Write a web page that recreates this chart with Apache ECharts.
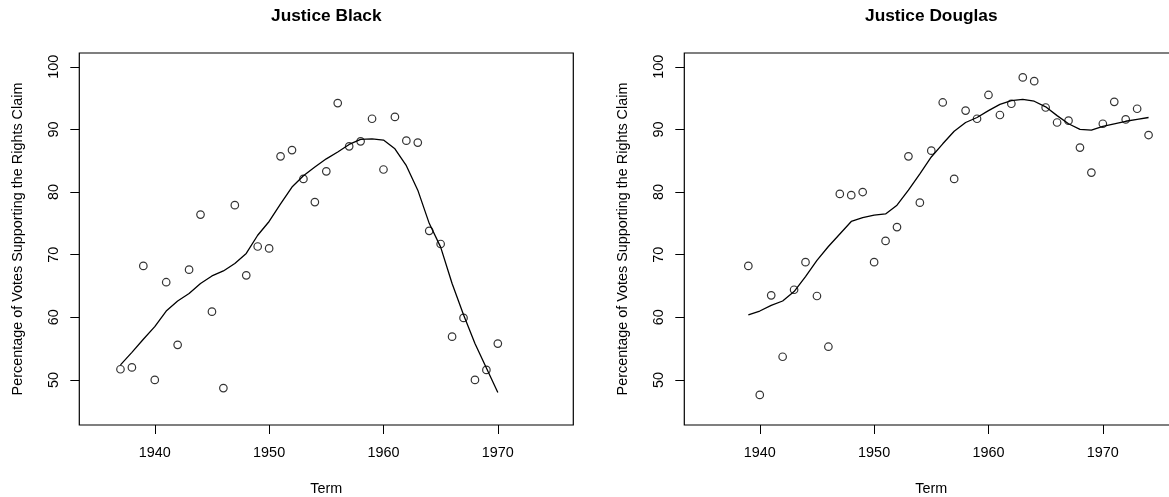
<!DOCTYPE html>
<html>
<head>
<meta charset="utf-8">
<script src="https://cdn.jsdelivr.net/npm/echarts@6/dist/echarts.min.js"></script>
<style>html,body{margin:0;padding:0;background:#fff}#c{width:1169px;height:497px}</style>
</head>
<body>
<div id="c"></div>
<script>
const blackYears = [1937,1938,1939,1940,1941,1942,1943,1944,1945,1946,1947,1948,1949,1950,1951,1952,1953,1954,1955,1956,1957,1958,1959,1960,1961,1962,1963,1964,1965,1966,1967,1968,1969,1970];
const blackVotes = [51.7,52.0,68.2,50.0,65.6,55.6,67.6,76.4,60.9,48.7,77.9,66.7,71.3,71.0,85.7,86.7,82.1,78.4,83.3,94.2,87.3,88.1,91.7,83.6,92.0,88.2,87.9,73.8,71.7,56.9,59.9,50.0,51.6,55.8];
const blackSmooth = [52.4,54.4,56.5,58.5,61.0,62.6,63.8,65.4,66.6,67.4,68.6,70.2,73.1,75.3,78.1,80.8,82.6,84.0,85.3,86.4,87.6,88.4,88.5,88.3,86.9,84.2,80.3,75.0,71.2,65.4,60.4,55.8,51.9,48.0];

const douglasYears = [1939,1940,1941,1942,1943,1944,1945,1946,1947,1948,1949,1950,1951,1952,1953,1954,1955,1956,1957,1958,1959,1960,1961,1962,1963,1964,1965,1966,1967,1968,1969,1970,1971,1972,1973,1974];
const douglasVotes = [68.2,47.6,63.5,53.7,64.4,68.8,63.4,55.3,79.7,79.5,80.0,68.8,72.2,74.4,85.7,78.3,86.6,94.3,82.1,93.0,91.7,95.5,92.3,94.1,98.3,97.7,93.5,91.1,91.4,87.1,83.1,90.9,94.4,91.6,93.3,89.1];
const douglasSmooth = [60.4,61.0,61.9,62.6,64.1,66.5,69.1,71.3,73.3,75.3,75.9,76.3,76.5,77.9,80.3,82.9,85.6,87.7,89.7,91.1,91.9,93.0,94.0,94.6,94.8,94.5,93.6,92.2,90.9,90.0,89.9,90.5,90.9,91.3,91.6,91.9];

const xTicks = [1940,1950,1960,1970];
const yTicks = [50,60,70,80,90,100];
const titles = ['Justice Black','Justice Douglas'];
const xName = 'Term';
const yName = 'Percentage of Votes Supporting the Rights Claim';

const FONT = '"Liberation Sans", Arial, Helvetica, sans-serif';
const zip = (a,b) => a.map((v,i)=>[v,b[i]]);

const grids = [
  {left:79.3, top:53, width:494, height:372},
  {left:684.3, top:53, width:494, height:372}
];

function xAxis(i){
  return {
    type:'value', gridIndex:i, min:1933.4, max:1976.6,
    name:xName, nameLocation:'middle', nameGap:64,
    nameTextStyle:{fontFamily:FONT, fontSize:14.4, color:'#000', verticalAlign:'middle'},
    axisLine:{show:false},
    splitLine:{show:false},
    axisTick:{show:true, length:9, inside:false, customValues:xTicks, lineStyle:{color:'#000', width:1}},
    axisLabel:{customValues:xTicks, formatter:v=>String(v), margin:28, verticalAlign:'middle', fontFamily:FONT, fontSize:14.4, color:'#000'}
  };
}
function yAxis(i){
  return {
    type:'value', gridIndex:i, min:42.8, max:102.2,
    axisLine:{show:false},
    splitLine:{show:false},
    axisTick:{show:true, length:9, inside:false, customValues:yTicks, lineStyle:{color:'#000', width:1}},
    axisLabel:{customValues:yTicks, formatter:v=>String(v), rotate:90, margin:25, align:'center', verticalAlign:'middle', fontFamily:FONT, fontSize:14.4, color:'#000'}
  };
}

const option = {
  backgroundColor:'#fff',
  animation:false,
  title:[
    {text:titles[0], left:326.3, top:7.5, textAlign:'center', padding:0, textStyle:{fontFamily:FONT, fontSize:17.3, fontWeight:'bold', color:'#000'}},
    {text:titles[1], left:931.3, top:7.5, textAlign:'center', padding:0, textStyle:{fontFamily:FONT, fontSize:17.3, fontWeight:'bold', color:'#000'}}
  ],
  grid: grids.map(g=>Object.assign({show:true, outerBoundsMode:'none', containLabel:false, borderColor:'#000', borderWidth:1.2, backgroundColor:'transparent'}, g)),
  xAxis:[xAxis(0), xAxis(1)],
  yAxis:[yAxis(0), yAxis(1)],
  graphic:[
    {type:'text', x:18, y:239, rotation:Math.PI/2, style:{text:yName, textAlign:'center', textVerticalAlign:'middle', font:'14.4px '+FONT, fill:'#000'}},
    {type:'text', x:622.7, y:239, rotation:Math.PI/2, style:{text:yName, textAlign:'center', textVerticalAlign:'middle', font:'14.4px '+FONT, fill:'#000'}}
  ],
  series:[
    {type:'scatter', xAxisIndex:0, yAxisIndex:0, data:zip(blackYears, blackVotes), symbol:'circle', symbolSize:7.5,
      itemStyle:{color:'transparent', borderColor:'#000', borderWidth:1.2}},
    {type:'line', xAxisIndex:0, yAxisIndex:0, data:zip(blackYears, blackSmooth), showSymbol:false, symbol:'none',
      lineStyle:{color:'#000', width:1.3}},
    {type:'scatter', xAxisIndex:1, yAxisIndex:1, data:zip(douglasYears, douglasVotes), symbol:'circle', symbolSize:7.5,
      itemStyle:{color:'transparent', borderColor:'#000', borderWidth:1.2}},
    {type:'line', xAxisIndex:1, yAxisIndex:1, data:zip(douglasYears, douglasSmooth), showSymbol:false, symbol:'none',
      lineStyle:{color:'#000', width:1.3}}
  ]
};
const chart = echarts.init(document.getElementById('c'), null, {renderer:'canvas'});
chart.setOption(option);
</script>
</body>
</html>
